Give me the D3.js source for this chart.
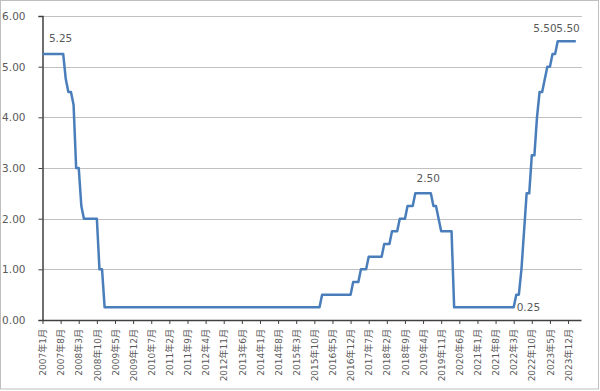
<!DOCTYPE html>
<html lang="ja">
<head>
<meta charset="UTF-8">
<title>政策金利の推移</title>
<script src="https://cdn.jsdelivr.net/npm/d3@7"></script>
<style>
  body { margin: 0; background: #fff; }
  text { font-family: "DejaVu Sans", "Noto Sans CJK JP", sans-serif; fill: #595959; }
</style>
</head>
<body>
<script>
// monthly rate (%), one row per year, 2007年1月 .. 2024年3月
const rate2007 = [5.25, 5.25, 5.25, 5.25, 5.25, 5.25, 5.25, 5.25, 5.25, 4.75, 4.50, 4.50];
const rate2008 = [4.25, 3.00, 3.00, 2.25, 2.00, 2.00, 2.00, 2.00, 2.00, 2.00, 1.00, 1.00];
const rate2009 = [0.25, 0.25, 0.25, 0.25, 0.25, 0.25, 0.25, 0.25, 0.25, 0.25, 0.25, 0.25];
const rate2010 = [0.25, 0.25, 0.25, 0.25, 0.25, 0.25, 0.25, 0.25, 0.25, 0.25, 0.25, 0.25];
const rate2011 = [0.25, 0.25, 0.25, 0.25, 0.25, 0.25, 0.25, 0.25, 0.25, 0.25, 0.25, 0.25];
const rate2012 = [0.25, 0.25, 0.25, 0.25, 0.25, 0.25, 0.25, 0.25, 0.25, 0.25, 0.25, 0.25];
const rate2013 = [0.25, 0.25, 0.25, 0.25, 0.25, 0.25, 0.25, 0.25, 0.25, 0.25, 0.25, 0.25];
const rate2014 = [0.25, 0.25, 0.25, 0.25, 0.25, 0.25, 0.25, 0.25, 0.25, 0.25, 0.25, 0.25];
const rate2015 = [0.25, 0.25, 0.25, 0.25, 0.25, 0.25, 0.25, 0.25, 0.25, 0.25, 0.25, 0.25];
const rate2016 = [0.50, 0.50, 0.50, 0.50, 0.50, 0.50, 0.50, 0.50, 0.50, 0.50, 0.50, 0.50];
const rate2017 = [0.75, 0.75, 0.75, 1.00, 1.00, 1.00, 1.25, 1.25, 1.25, 1.25, 1.25, 1.25];
const rate2018 = [1.50, 1.50, 1.50, 1.75, 1.75, 1.75, 2.00, 2.00, 2.00, 2.25, 2.25, 2.25];
const rate2019 = [2.50, 2.50, 2.50, 2.50, 2.50, 2.50, 2.50, 2.25, 2.25, 2.00, 1.75, 1.75];
const rate2020 = [1.75, 1.75, 1.75, 0.25, 0.25, 0.25, 0.25, 0.25, 0.25, 0.25, 0.25, 0.25];
const rate2021 = [0.25, 0.25, 0.25, 0.25, 0.25, 0.25, 0.25, 0.25, 0.25, 0.25, 0.25, 0.25];
const rate2022 = [0.25, 0.25, 0.25, 0.50, 0.50, 1.00, 1.75, 2.50, 2.50, 3.25, 3.25, 4.00];
const rate2023 = [4.50, 4.50, 4.75, 5.00, 5.00, 5.25, 5.25, 5.50, 5.50, 5.50, 5.50, 5.50];
const rate2024 = [5.50, 5.50, 5.50];

const tickLabels = [
  "2007年1月", "2007年8月", "2008年3月", "2008年10月", "2009年5月", "2009年12月",
  "2010年7月", "2011年2月", "2011年9月", "2012年4月", "2012年11月", "2013年6月",
  "2014年1月", "2014年8月", "2015年3月", "2015年10月", "2016年5月", "2016年12月",
  "2017年7月", "2018年2月", "2018年9月", "2019年4月", "2019年11月", "2020年6月",
  "2021年1月", "2021年8月", "2022年3月", "2022年10月", "2023年5月", "2023年12月"
];
const yTicks = [0, 1, 2, 3, 4, 5, 6];

// labelled points: [month, text]
const pointLabels = [
  ["2007年8月", "5.25"],
  ["2019年6月", "2.50"],
  ["2022年3月", "0.25"],
  ["2023年8月", "5.50"],
  ["2023年12月", "5.50"]
];

const rates = [].concat(rate2007, rate2008, rate2009, rate2010, rate2011, rate2012,
  rate2013, rate2014, rate2015, rate2016, rate2017, rate2018, rate2019, rate2020,
  rate2021, rate2022, rate2023, rate2024);
const months = rates.map((d, i) => `${2007 + Math.floor(i / 12)}年${i % 12 + 1}月`);
const data = rates.map((v, i) => ({ month: months[i], i: i, v: v }));

const width = 600, height = 391;
const plotLeft = 42.5, plotRight = 581, plotTop = 16, plotBottom = 320;

const svg = d3.select("body").append("svg")
  .attr("width", width)
  .attr("height", height);

svg.append("rect")
  .attr("x", 0.5).attr("y", 0.5)
  .attr("width", width - 2).attr("height", height - 2.5)
  .attr("fill", "#fff")
  .attr("stroke", "#bfbfbf");

const x = d3.scaleLinear().domain([0, 208]).range([plotLeft, plotRight]);
const y = d3.scaleLinear().domain([0, 6]).range([plotBottom, plotTop]);

// gridlines
svg.append("g")
  .selectAll("line")
  .data(yTicks.filter(d => d > 0))
  .join("line")
  .attr("x1", plotLeft).attr("x2", plotRight + 1)
  .attr("y1", d => Math.round(y(d)) + 0.5)
  .attr("y2", d => Math.round(y(d)) + 0.5)
  .attr("stroke", "#c0c0c0");

// y axis
const yAxis = svg.append("g")
  .attr("transform", `translate(${plotLeft},0)`)
  .call(d3.axisLeft(y).tickValues(yTicks).tickFormat(d3.format(".2f")).tickSize(4).tickPadding(13));
yAxis.select(".domain").attr("stroke", "#404040").attr("stroke-width", 1.5);
yAxis.selectAll(".tick line").attr("stroke", "#404040");
yAxis.selectAll(".tick text").style("font-size", "10.5px").attr("fill", "#595959");

// x axis
const xAxis = svg.append("g")
  .attr("transform", `translate(0,${plotBottom})`)
  .call(d3.axisBottom(x)
    .tickValues(tickLabels.map(t => months.indexOf(t)))
    .tickFormat(i => months[i])
    .tickSize(4)
    .tickSizeOuter(0));
xAxis.select(".domain").attr("stroke", "#404040").attr("stroke-width", 1.5);
xAxis.selectAll(".tick line").attr("stroke", "#404040");
xAxis.selectAll(".tick text")
  .style("font-size", "9px")
  .attr("fill", "#595959")
  .attr("text-anchor", "end")
  .attr("transform", "rotate(-90)")
  .attr("x", -9)
  .attr("y", 0)
  .attr("dy", "0.35em");

// rate line
const line = d3.line().x(d => x(d.i)).y(d => y(d.v));
svg.append("path")
  .datum(data)
  .attr("d", line)
  .attr("fill", "none")
  .attr("stroke", "#4a7ebb")
  .attr("stroke-width", 2.5)
  .attr("stroke-linejoin", "round");

// point labels
const labelPos = [
  { anchor: "middle", dx: 0, dy: -12 },
  { anchor: "middle", dx: 0, dy: -11 },
  { anchor: "start", dx: 3, dy: 4 },
  { anchor: "end", dx: -1, dy: -9 },
  { anchor: "middle", dx: 0, dy: -9 }
];
svg.append("g")
  .selectAll("text")
  .data(pointLabels)
  .join("text")
  .attr("x", (d, k) => x(months.indexOf(d[0])) + labelPos[k].dx)
  .attr("y", (d, k) => y(rates[months.indexOf(d[0])]) + labelPos[k].dy)
  .attr("text-anchor", (d, k) => labelPos[k].anchor)
  .style("font-size", "10.5px")
  .attr("fill", "#404040")
  .text(d => d[1]);
</script>
</body>
</html>
